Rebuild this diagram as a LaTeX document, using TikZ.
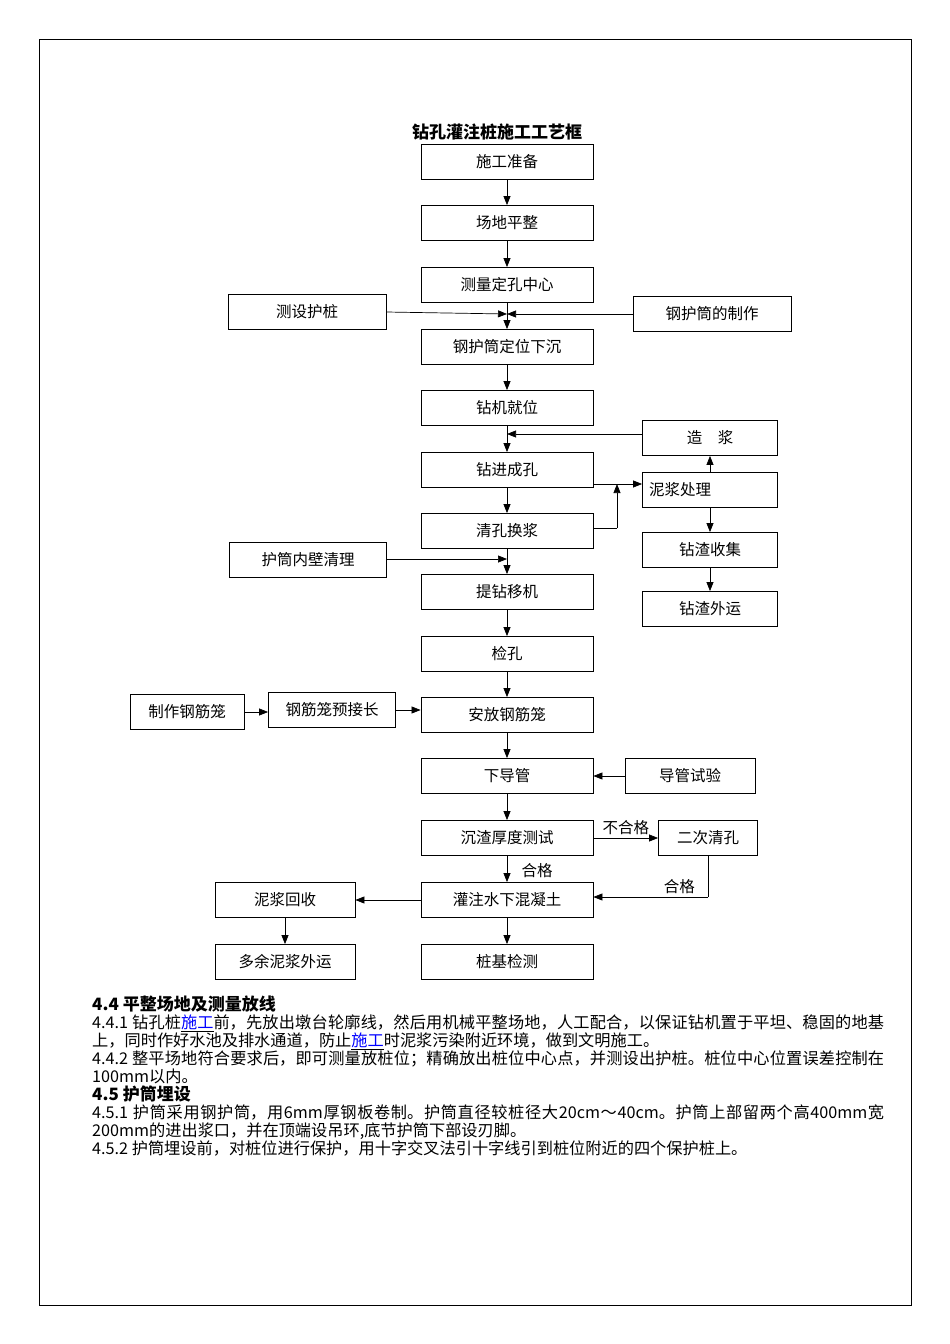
\documentclass[tikz,border=0pt]{standalone}
\usepackage{fontspec}
\setmainfont{Noto Sans CJK SC}
\usetikzlibrary{arrows.meta}
\XeTeXlinebreaklocale "zh"
\XeTeXlinebreakskip=0pt plus 1pt
\tikzset{
  box/.style={draw, line width=0.8pt, minimum height=35pt, inner sep=0pt, font=\fontsize{15.5}{15.5}\selectfont},
  mainbox/.style={box, minimum width=172pt},
  sidebox/.style={box, minimum width=135pt},
  arr/.style={-{Triangle[length=9pt,width=7pt]}, line width=0.7pt},
  lnk/.style={line width=0.7pt}
}
\newcommand{\sg}[1]{\underline{\textcolor{blue}{#1}}}
\begin{document}
\begin{tikzpicture}[x=1pt,y=-1pt]
  \useasboundingbox (0,0) rectangle (950,1344);
  \draw[line width=0.8pt] (39,39) rectangle (911,1305);
  \node[font=\bfseries\fontsize{17}{17}\selectfont] (title) at (497,132) {钻孔灌注桩施工工艺框};

  % 主流程
  \node[mainbox] (s1)  at (507,162) {施工准备};
  \node[mainbox] (s2)  at (507,223) {场地平整};
  \node[mainbox] (s3)  at (507,285) {测量定孔中心};
  \node[mainbox] (s4)  at (507,347) {钢护筒定位下沉};
  \node[mainbox] (s5)  at (507,408) {钻机就位};
  \node[mainbox] (s6)  at (507,470) {钻进成孔};
  \node[mainbox] (s7)  at (507,531) {清孔换浆};
  \node[mainbox] (s8)  at (507,592) {提钻移机};
  \node[mainbox] (s9)  at (507,654) {检孔};
  \node[mainbox] (s10) at (507,715) {安放钢筋笼};
  \node[mainbox] (s11) at (507,776) {下导管};
  \node[mainbox] (s12) at (507,838) {沉渣厚度测试};
  \node[mainbox] (s13) at (507,900) {灌注水下混凝土};
  \node[mainbox] (s14) at (507,962) {桩基检测};

  % 辅助工序
  \node[box, minimum width=158pt] (hz)  at (307,312) {测设护桩};
  \node[box, minimum width=158pt] (gz)  at (712,314) {钢护筒的制作};
  \node[sidebox] (zj)  at (710,438) {造\quad 浆};
  \node[sidebox, align=left, text width=122pt] (nj) at (710,490) {泥浆处理};
  \node[sidebox] (zs)  at (710,550) {钻渣收集};
  \node[sidebox] (zw)  at (710,609) {钻渣外运};
  \node[box, minimum width=157pt] (nb)  at (308,560) {护筒内壁清理};
  \node[box, minimum width=114pt] (zg)  at (187,712) {制作钢筋笼};
  \node[box, minimum width=127pt] (yj)  at (332,710) {钢筋笼预接长};
  \node[box, minimum width=130pt] (dg)  at (690,776) {导管试验};
  \node[box, minimum width=99pt]  (ec)  at (708,838) {二次清孔};
  \node[box, minimum width=140pt] (nh)  at (285,900) {泥浆回收};
  \node[box, minimum width=140pt] (dy)  at (285,962) {多余泥浆外运};

  % 主流程箭头
  \foreach \a/\b in {s1/s2,s2/s3,s3/s4,s4/s5,s5/s6,s6/s7,s7/s8,s8/s9,s9/s10,s10/s11,s11/s12,s12/s13,s13/s14}
    \draw[arr] (\a) -- (\b);

  % 支线
  \coordinate (m1) at (507,314);
  \draw[arr] (hz.east) -- (m1);
  \draw[arr] (gz.west) -- (m1);
  \coordinate (m2) at (507,434);
  \draw[arr] (zj.west |- m2) -- (m2);
  \draw[arr] (s6.east |- 0,484) -- (nj.west |- 0,484);
  \coordinate (c1) at (617,528);
  \draw[lnk] (s7.east |- c1) -- (c1);
  \draw[arr] (c1) -- (617,484);
  \draw[arr] (nj) -- (zj);
  \draw[arr] (nj) -- (zs);
  \draw[arr] (zs) -- (zw);
  \coordinate (m3) at (507,559);
  \draw[arr] (nb.east |- m3) -- (m3);
  \draw[arr] (zg) -- (yj.west |- zg);
  \draw[arr] (yj.east) -- (s10.west |- yj.east);
  \draw[arr] (dg) -- (s11);
  \draw[arr] (s12.east |- ec) -- node[above, font=\fontsize{15.5}{15.5}\selectfont] {不合格} (ec);
  \coordinate (c2) at (708,897);
  \draw[lnk] (ec) -- (c2);
  \draw[arr] (c2) -- node[above, pos=0.25, font=\fontsize{15.5}{15.5}\selectfont] {合格} (s13.east |- c2);
  \node[font=\fontsize{15.5}{15.5}\selectfont] (hg) at (537,871) {合格};
  \draw[arr] (s13) -- (nh);
  \draw[arr] (nh) -- (dy);

  % 正文
  \node[anchor=north west, text width=792pt, align=justify, inner sep=0pt,
        font=\fontsize{16.2}{18}\selectfont] (txt) at (92,996) {%
    {\bfseries\fontsize{17}{18}\selectfont 4.4 平整场地及测量放线}\\
    4.4.1 钻孔桩\sg{施工}前，先放出墩台轮廓线，然后用机械平整场地，人工配合，以保证钻机置于平坦、稳固的地基上，同时作好水池及排水通道，防止\sg{施工}时泥浆污染附近环境，做到文明施工。\\
    4.4.2 整平场地符合要求后，即可测量放桩位；精确放出桩位中心点，并测设出护桩。桩位中心位置误差控制在100mm以内。\\
    {\bfseries\fontsize{17}{18}\selectfont 4.5 护筒埋设}\\
    4.5.1 护筒采用钢护筒，用6mm厚钢板卷制。护筒直径较桩径大20cm～40cm。护筒上部留两个高400mm宽200mm的进出浆口，并在顶端设吊环,底节护筒下部设刃脚。\\
    4.5.2 护筒埋设前，对桩位进行保护，用十字交叉法引十字线引到桩位附近的四个保护桩上。};
\end{tikzpicture}
\end{document}
